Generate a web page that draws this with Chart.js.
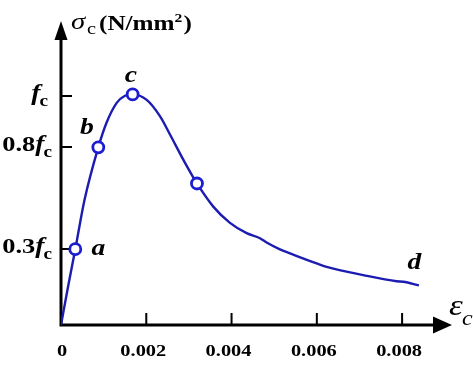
<!DOCTYPE html>
<html>
<head>
<meta charset="utf-8">
<script src="https://cdn.jsdelivr.net/npm/chart.js@4"></script>
<style>
  body { margin: 0; background: #fff; }
  #wrap { width: 473px; height: 365px; position: relative; }
</style>
</head>
<body>
<div id="wrap"><canvas id="curva"></canvas></div>
<script>
// strain (x) and stress as fraction of fc (y)
const strain = [0, 0.000164, 0.000335, 0.000551, 0.000875, 0.00107, 0.001306, 0.0015, 0.00168,
  0.00201, 0.00232, 0.002556, 0.002868, 0.003189, 0.003571, 0.003963, 0.004354, 0.004666, 0.004823,
  0.005135, 0.005369, 0.005995, 0.00623, 0.007088, 0.007871, 0.008026, 0.008394];
const stress = [0, 0.166, 0.331, 0.546, 0.776, 0.884, 0.97, 1.001, 1.007,
  0.983, 0.912, 0.832, 0.722, 0.618, 0.517, 0.446, 0.401, 0.379, 0.36,
  0.33, 0.313, 0.269, 0.254, 0.218, 0.191, 0.189, 0.173];

// os pontos marcados (a, b, c e o quarto ponto)
const markerStrain = [0.000335, 0.000875, 0.00168, 0.003189];
const markerStress = [0.331, 0.776, 1.007, 0.618];

// ticks
const xTicks = [0, 0.002, 0.004, 0.006, 0.008];
const xTickLabels = ['0', '0.002', '0.004', '0.006', '0.008'];
const yTicks = [0.332, 0.777, 1.0];
const yTickNums = ['0.3', '0.8', ''];

// rótulos dos pontos
const pointNames = ['a', 'b', 'c', 'd'];
const pointNameX = [0.00088, 0.00061, 0.00164, 0.00829];
const pointNameY = [0.306, 0.834, 1.061, 0.2445];

const X_MAX = 0.00917;
const Y_MAX = 1.3275;
const SX = 1.2; // o desenho original está esticado na horizontal

function texto(ctx, str, x, y, font, align) {
  ctx.save();
  ctx.font = font;
  ctx.translate(x, y);
  ctx.scale(SX, 1);
  ctx.textAlign = align || 'left';
  ctx.textBaseline = 'alphabetic';
  ctx.fillText(str, 0, 0);
  ctx.restore();
}

function largura(ctx, str, font) {
  ctx.save();
  ctx.font = font;
  const w = ctx.measureText(str).width * SX;
  ctx.restore();
  return w;
}

const SERIF = '"Liberation Serif", "DejaVu Serif", serif';

const eixosPlugin = {
  id: 'eixos',
  beforeDatasetsDraw(chart) {
    const ctx = chart.ctx;
    const xs = chart.scales.x, ys = chart.scales.y;
    const x0 = xs.getPixelForValue(0), y0 = ys.getPixelForValue(0);
    const xEnd = xs.getPixelForValue(X_MAX), yEnd = ys.getPixelForValue(Y_MAX);

    ctx.save();
    ctx.strokeStyle = '#000';
    ctx.fillStyle = '#000';
    ctx.lineWidth = 3;
    ctx.beginPath();
    ctx.moveTo(x0 - 1.5, y0);
    ctx.lineTo(xEnd - 18, y0);
    ctx.moveTo(x0, y0 + 1.5);
    ctx.lineTo(x0, yEnd + 18);
    ctx.stroke();

    // setas
    ctx.beginPath();
    ctx.moveTo(xEnd, y0);
    ctx.lineTo(xEnd - 19, y0 - 8.5);
    ctx.lineTo(xEnd - 19, y0 + 8.5);
    ctx.closePath();
    ctx.fill();
    ctx.beginPath();
    ctx.moveTo(x0, yEnd);
    ctx.lineTo(x0 - 6.5, yEnd + 19);
    ctx.lineTo(x0 + 6.5, yEnd + 19);
    ctx.closePath();
    ctx.fill();

    // marcas
    ctx.lineWidth = 2;
    ctx.beginPath();
    xTicks.forEach(v => {
      if (v === 0) return;
      const px = xs.getPixelForValue(v);
      ctx.moveTo(px, y0);
      ctx.lineTo(px, y0 - 12);
    });
    yTicks.forEach(v => {
      const py = ys.getPixelForValue(v);
      ctx.moveTo(x0, py);
      ctx.lineTo(x0 + 11, py);
    });
    ctx.stroke();
    ctx.restore();
  },
  afterDraw(chart) {
    const ctx = chart.ctx;
    const xs = chart.scales.x, ys = chart.scales.y;
    const y0 = ys.getPixelForValue(0);
    ctx.save();
    ctx.fillStyle = '#000';

    // rótulos do eixo x (um pouco à esquerda da marca, como no original)
    xTicks.forEach((v, i) => {
      const px = xs.getPixelForValue(v) + (v === 0 ? 1 : -3);
      texto(ctx, xTickLabels[i], px, y0 + 31, 'bold 17px ' + SERIF, 'center');
    });

    // rótulos do eixo y: número + f itálico + c subscrito
    const fNum = 'bold 22px ' + SERIF;
    const fF = 'italic bold 23px ' + SERIF;
    const fSub = 'bold 16px ' + SERIF;
    yTicks.forEach((v, i) => {
      const py = ys.getPixelForValue(v);
      const wN = largura(ctx, yTickNums[i], fNum);
      const wF = largura(ctx, 'f', fF);
      const wC = largura(ctx, 'c', fSub);
      const right = i === 2 ? 49 : 53;
      let x = right - (wN + wF + wC);
      texto(ctx, yTickNums[i], x, py + 4, fNum);
      x += wN;
      texto(ctx, 'f', x, py + 4, fF);
      x += wF;
      texto(ctx, 'c', x - 1, py + 10, fSub);
    });

    // título do eixo y
    texto(ctx, 'σ', 71, 29, 'italic 24px ' + SERIF);
    texto(ctx, 'c', 87, 34, '17px ' + SERIF);
    texto(ctx, '(N/mm', 99, 30, 'bold 21px ' + SERIF);
    const wUnit = largura(ctx, '(N/mm', 'bold 21px ' + SERIF);
    texto(ctx, '2', 99 + wUnit, 22, 'bold 13px ' + SERIF);
    texto(ctx, ')', 99 + wUnit + largura(ctx, '2', 'bold 13px ' + SERIF) + 1, 30, 'bold 21px ' + SERIF);

    // título do eixo x
    texto(ctx, 'ε', 449, 315, 'italic 29px ' + SERIF);
    texto(ctx, 'c', 462, 325, 'italic 20px ' + SERIF);

    // a, b, c, d
    pointNames.forEach((n, i) => {
      texto(ctx, n, xs.getPixelForValue(pointNameX[i]), ys.getPixelForValue(pointNameY[i]), 'italic bold 23px ' + SERIF, 'center');
    });
    ctx.restore();
  }
};

const ctx = document.getElementById('curva').getContext('2d');
new Chart(ctx, {
  type: 'scatter',
  data: {
    datasets: [
      {
        label: 'curva',
        data: strain.map((v, i) => ({ x: v, y: stress[i] })),
        showLine: true,
        borderColor: '#1c1cb0',
        borderWidth: 2.4,
        cubicInterpolationMode: 'monotone',
        pointRadius: 0,
        order: 2
      },
      {
        label: 'pontos',
        data: markerStrain.map((v, i) => ({ x: v, y: markerStress[i] })),
        showLine: false,
        pointRadius: 5.5,
        pointBorderWidth: 2.8,
        pointBorderColor: '#1c1cd0',
        pointBackgroundColor: '#fff',
        order: 1
      }
    ]
  },
  options: {
    responsive: true,
    maintainAspectRatio: false,
    animation: false,
    layout: { padding: { left: 61, right: 21, top: 21, bottom: 40 } },
    plugins: {
      legend: { display: false },
      tooltip: { enabled: false }
    },
    scales: {
      x: { type: 'linear', min: 0, max: X_MAX, display: false },
      y: { type: 'linear', min: 0, max: Y_MAX, display: false }
    }
  },
  plugins: [eixosPlugin]
});
</script>
</body>
</html>
